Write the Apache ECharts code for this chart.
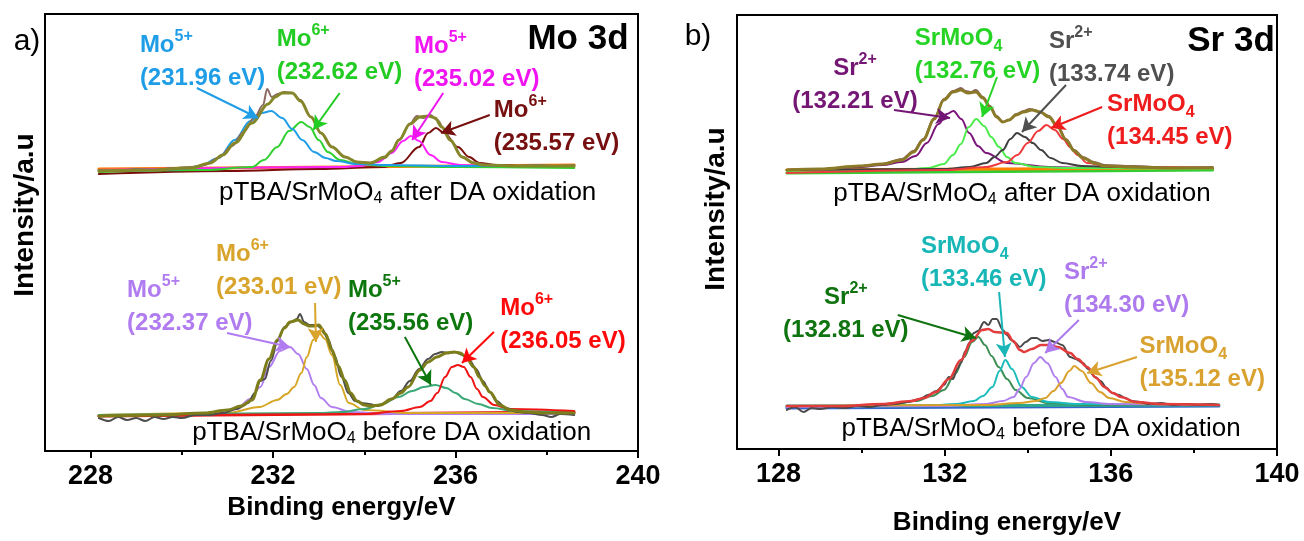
<!DOCTYPE html>
<html>
<head>
<meta charset="utf-8">
<script src="https://cdn.jsdelivr.net/npm/echarts@6/dist/echarts.min.js"></script>
<style>
  html, body { margin: 0; padding: 0; background: #ffffff; }
  #chart { width: 1304px; height: 541px; }
</style>
</head>
<body>
<div id="chart"></div>
<script>
// ---------- axis ticks (binding energy, eV) ----------
const moTicks = [228, 232, 236, 240];
const moMinorTicks = [230, 234, 238];
const srTicks = [128, 132, 136, 140];
const srMinorTicks = [130, 134, 138];

// ---------- Mo 3d : after DA oxidation (spectrum stacked above) ----------
const moAfterCenters = [231.96, 232.62, 235.02, 235.57];
const moAfterRaw = [[228.18,281],[228.6,280],[229.0,282],[229.4,281],[229.8,283],[230.2,284],[230.5,286],[230.8,293],[231.1,305],[231.35,319],[231.6,334],[231.78,346],[231.87,362],[231.97,354],[232.1,357],[232.25,359],[232.42,358],[232.6,351],[232.83,334],[233.05,318],[233.3,304],[233.58,294],[233.84,289],[234.13,288],[234.45,293],[234.6,300],[234.78,312],[235.0,327],[235.15,335],[235.3,333],[235.45,336],[235.6,331],[235.75,322],[235.9,310],[236.15,294],[236.4,288],[236.7,286],[237.2,285],[237.8,286],[238.2,285],[238.6,286]];
const moAfterEnvelope = [[228.18,280],[229.3,281],[230.2,283],[230.62,288],[230.9,296],[231.16,308],[231.54,328],[231.89,347],[232.05,354],[232.2,358],[232.42,358],[232.6,350],[232.83,334],[233.05,318],[233.29,304],[233.58,294],[233.84,289],[234.13,288],[234.45,294],[234.6,300],[234.76,311],[235.0,327],[235.22,334],[235.4,335],[235.55,333],[235.7,324],[235.88,311],[236.14,294],[236.4,288],[236.6,286],[237.4,285],[238.6,285]];
const moAfterMo5a = [[228.18,280],[229.5,281],[230.0,282],[230.4,285],[230.8,293],[231.16,311],[231.5,330],[231.75,338],[231.96,340],[232.2,333],[232.42,322],[232.64,311],[232.9,299],[233.15,293],[233.38,290],[233.84,287],[234.5,286],[236.0,285],[238.6,285]];
const moAfterMo6a = [[228.18,279],[230.5,281],[231.54,284],[231.8,291],[232.09,304],[232.35,320],[232.62,329],[232.8,324],[233.0,311],[233.2,299],[233.47,291],[233.84,287],[234.5,285],[236.0,284],[238.6,283]];
const moAfterMo5b = [[228.18,281],[233.5,284],[233.9,285],[234.3,289],[234.6,298],[234.85,310],[235.02,315],[235.2,310],[235.45,296],[235.7,289],[236.1,286],[237.0,285],[238.6,285]];
const moAfterMo6b = [[228.18,277],[231.0,280],[233.0,282],[234.4,284],[234.8,288],[235.2,304],[235.4,318],[235.57,323],[235.75,318],[236.05,304],[236.3,294],[236.52,288],[236.9,286],[237.5,285],[238.6,284]];
const moAfterBg = [[228.18,282],[238.6,286]];

// ---------- Mo 3d : before DA oxidation ----------
const moBeforeCenters = [232.37, 233.01, 235.56, 236.05];
const moBeforeRaw = [[228.18,33],[228.4,30],[228.6,34],[228.8,31],[229.0,33],[229.2,30],[229.4,34],[229.6,32],[229.8,34],[230.0,33],[230.3,36],[230.6,36],[230.9,38],[231.2,42],[231.45,48],[231.6,58],[231.72,70],[231.82,72],[231.95,90],[232.1,110],[232.25,124],[232.4,129],[232.52,132],[232.59,137],[232.68,129],[232.8,126],[232.95,126],[233.08,122],[233.2,112],[233.35,95],[233.5,74],[233.65,58],[233.8,50],[233.95,48],[234.1,47],[234.3,45],[234.45,48],[234.6,52],[234.8,60],[235.0,70],[235.2,82],[235.4,92],[235.55,97],[235.7,99],[235.85,98],[236.0,99],[236.15,96],[236.3,91],[236.45,82],[236.6,70],[236.75,59],[236.9,50],[237.1,43],[237.35,39],[237.6,38],[237.9,36],[238.1,34],[238.3,37],[238.6,36]];
const moBeforeEnvelope = [[228.18,35],[229.5,36],[230.5,38],[231.0,41],[231.3,45],[231.54,51],[231.72,71],[231.91,92],[232.09,111],[232.25,123],[232.37,129],[232.55,131],[232.68,127],[232.79,125],[232.9,125],[233.0,126],[233.15,117],[233.29,101],[233.43,85],[233.57,71],[233.7,58],[233.84,50],[234.0,46],[234.15,45],[234.35,46],[234.6,52],[234.8,58],[234.96,64],[235.22,81],[235.4,89],[235.59,94],[235.8,98],[235.97,99],[236.1,98],[236.23,94],[236.4,84],[236.52,74],[236.65,65],[236.75,59],[236.97,46],[237.2,41],[237.53,39],[238.0,38],[238.6,38]];
const moBeforeMo5a = [[228.18,35],[230.5,37],[231.2,42],[231.5,52],[231.72,64],[231.91,84],[232.15,100],[232.37,104],[232.55,97],[232.74,82],[232.9,66],[233.05,53],[233.29,44],[233.7,39],[234.5,37],[238.6,37]];
const moBeforeMo6a = [[228.18,36],[231.0,38],[231.7,44],[232.09,51],[232.3,57],[232.46,64],[232.62,78],[232.74,94],[232.88,111],[233.01,118],[233.14,112],[233.29,96],[233.47,66],[233.66,48],[234.0,41],[235.0,38],[238.6,38]];
const moBeforeMo5b = [[228.18,36],[233.0,38],[233.5,39],[234.0,42],[234.4,47],[234.75,54],[235.05,60],[235.3,64],[235.56,66],[235.8,63],[236.0,58],[236.2,52],[236.5,47],[236.8,43],[237.3,40],[238.6,38]];
const moBeforeMo6b = [[228.18,35],[234.0,37],[234.8,40],[235.22,44],[235.45,50],[235.6,58],[235.77,74],[235.92,84],[236.05,86],[236.18,84],[236.33,74],[236.47,62],[236.6,54],[236.85,46],[237.2,42],[238.6,40]];
const moBeforeBg = [[228.18,35],[238.6,39]];

// ---------- Sr 3d : after DA oxidation ----------
const srAfterCenters = [132.21, 132.76, 133.74, 134.45];
const srAfterRaw = [[128.2,279],[128.6,280],[129.0,279],[129.5,281],[129.96,283],[130.5,285],[130.97,290],[131.25,298],[131.48,310],[131.75,331],[131.98,350],[132.2,358],[132.39,361],[132.5,358],[132.62,357],[132.75,359],[132.92,352],[133.09,343],[133.25,333],[133.4,327],[133.55,329],[133.72,335],[133.9,338],[134.05,340],[134.15,339],[134.3,337],[134.51,333],[134.72,323],[134.92,310],[135.12,299],[135.33,292],[135.6,287],[135.84,284],[136.5,283],[137.5,281],[138.45,282]];
const srAfterEnvelope = [[128.2,279],[129.0,280],[129.96,283],[130.5,285],[130.97,289],[131.25,297],[131.48,309],[131.75,330],[131.98,349],[132.2,357],[132.39,359],[132.55,356],[132.75,357],[132.92,351],[133.09,342],[133.25,332],[133.4,327],[133.55,329],[133.72,334],[133.9,337],[134.1,339],[134.3,337],[134.51,332],[134.72,322],[134.92,309],[135.12,298],[135.33,291],[135.6,286],[135.84,283],[136.5,282],[137.5,281],[138.45,281]];
const srAfterSr2a = [[128.2,278],[129.0,279],[129.96,282],[130.5,284],[130.97,287],[131.3,293],[131.57,306],[131.85,325],[132.05,335],[132.21,338],[132.4,330],[132.59,316],[132.8,303],[133.0,296],[133.5,286],[134.51,282],[135.5,281],[138.45,281]];
const srAfterMoO4a = [[128.2,277],[131.0,279],[131.6,281],[131.98,285],[132.2,294],[132.39,305],[132.58,322],[132.76,330],[132.95,323],[133.12,312],[133.31,302],[133.5,292],[133.7,286],[134.2,282],[135.0,281],[138.45,280]];
const srAfterSr2b = [[128.2,279],[132.0,280],[132.6,282],[133.0,286],[133.2,292],[133.4,299],[133.58,310],[133.74,316],[133.93,312],[134.12,306],[134.32,299],[134.55,291],[134.83,286],[135.3,283],[136.2,282],[138.45,281]];
const srAfterMoO4b = [[128.2,276],[132.0,279],[133.0,282],[133.5,287],[133.75,294],[134.0,306],[134.25,318],[134.45,324],[134.65,319],[134.85,310],[135.02,302],[135.2,294],[135.43,286],[135.9,283],[136.6,282],[138.45,281]];
const srAfterBgA = [[128.2,279],[138.45,281]];
const srAfterBgB = [[128.2,276],[138.45,279]];

// ---------- Sr 3d : before DA oxidation ----------
const srBeforeCenters = [132.81, 133.46, 134.30, 135.12];
const srBeforeRaw = [[128.2,39],[128.4,42],[128.6,37],[128.8,41],[129.0,40],[129.3,42],[129.6,41],[129.9,43],[130.2,42],[130.5,44],[130.8,45],[131.1,47],[131.4,50],[131.6,54],[131.8,58],[131.98,64],[132.1,72],[132.2,70],[132.3,80],[132.39,86],[132.5,98],[132.59,106],[132.7,116],[132.8,118],[132.95,127],[133.05,124],[133.15,130],[133.25,130],[133.4,119],[133.5,114],[133.6,109],[133.7,106],[133.81,102],[133.95,107],[134.1,111],[134.21,111],[134.35,108],[134.51,109],[134.65,107],[134.83,104],[135.02,92],[135.15,90],[135.33,86],[135.45,80],[135.62,72],[135.75,68],[135.9,61],[136.03,56],[136.2,54],[136.35,51],[136.5,48],[136.7,47],[136.9,45],[137.2,46],[137.5,44],[137.8,45],[138.1,44],[138.4,45],[138.6,44]];
const srBeforeEnvelope = [[128.2,43],[129.5,43],[130.5,45],[131.2,48],[131.5,51],[131.79,57],[132.1,70],[132.39,89],[132.65,108],[132.9,119],[133.05,120],[133.2,117],[133.5,116],[133.65,108],[133.81,99],[133.91,97],[134.1,100],[134.32,104],[134.5,104],[134.72,102],[135.02,96],[135.2,90],[135.43,82],[135.65,71],[135.84,62],[136.05,56],[136.24,52],[136.6,47],[137.2,45],[138.6,44]];
const srBeforeSr2a = [[128.2,42],[130.0,43],[130.8,45],[131.3,48],[131.7,53],[131.98,59],[132.25,75],[132.47,92],[132.66,107],[132.81,112],[132.97,104],[133.13,93],[133.3,82],[133.5,70],[133.71,59],[134.0,51],[134.5,46],[135.5,44],[138.6,44]];
const srBeforeMoO4a = [[128.2,42],[131.5,43],[132.3,45],[132.7,48],[132.92,53],[133.15,62],[133.32,78],[133.46,89],[133.62,80],[133.85,62],[134.1,52],[134.5,47],[135.2,45],[138.6,44]];
const srBeforeSr2b = [[128.2,42],[132.0,43],[133.0,45],[133.4,48],[133.66,52],[133.8,60],[133.96,72],[134.15,86],[134.3,92],[134.47,86],[134.67,72],[134.83,60],[134.97,52],[135.4,47],[136.0,45],[138.6,44]];
const srBeforeMoO4b = [[128.2,43],[133.0,44],[133.8,46],[134.2,48],[134.42,51],[134.62,58],[134.8,66],[135.0,78],[135.12,83],[135.3,78],[135.52,66],[135.74,57],[135.96,51],[136.35,47],[137.0,45],[138.6,44]];
const srBeforeBgA = [[128.2,43],[138.6,44]];
const srBeforeBgB = [[128.2,41],[138.6,43]];

// ---------- drawing ----------
const FONT = '"Liberation Sans", Arial, Helvetica, sans-serif';
const chart = echarts.init(document.getElementById('chart'), null, { renderer: 'canvas' });

function curve(name, data, color, width, panel, z) {
  return {
    name, type: 'line', data,
    xAxisIndex: panel * 2, yAxisIndex: panel,
    smooth: 0.35, smoothMonotone: 'x',
    showSymbol: false, symbol: 'none', silent: true,
    lineStyle: { color, width, cap: 'round', join: 'round' },
    z: z || 2
  };
}

function rich(color) {
  return {
    m: { color, fontFamily: FONT, fontWeight: 'bold', fontSize: 24, lineHeight: 33 },
    s: { color, fontFamily: FONT, fontWeight: 'bold', fontSize: 16, lineHeight: 20, verticalAlign: 'top' },
    b: { color, fontFamily: FONT, fontWeight: 'bold', fontSize: 16, lineHeight: 19, verticalAlign: 'bottom' }
  };
}

// peak call-outs: species name, peak position (from the centre arrays), text anchor and arrow
const moNotes = [
  { base: 'Mo', sup: '5+', center: moAfterCenters[0],  color: '#1f9de6', at: [229.08, 422.5], align: 'left', arrow: [[230.33, 363], [231.67, 333]] },
  { base: 'Mo', sup: '6+', center: moAfterCenters[1],  color: '#22cc22', at: [232.08, 428.5], align: 'left', arrow: [[233.46, 358], [232.88, 321]] },
  { base: 'Mo', sup: '5+', center: moAfterCenters[2],  color: '#f014f0', at: [235.09, 421.5], align: 'left', arrow: [[235.73, 358], [235.05, 311]] },
  { base: 'Mo', sup: '6+', center: moAfterCenters[3],  color: '#761010', at: [236.84, 357.5], align: 'left', arrow: [[236.75, 336], [235.68, 318]] },
  { base: 'Mo', sup: '5+', center: moBeforeCenters[0], color: '#b07cf0', at: [228.80, 177.5], align: 'left', arrow: [[230.99, 118], [232.37, 104]] },
  { base: 'Mo', sup: '6+', center: moBeforeCenters[1], color: '#d9a42c', at: [230.75, 213.5], align: 'left', arrow: [[232.92, 148], [232.94, 109]] },
  { base: 'Mo', sup: '5+', center: moBeforeCenters[2], color: '#0d760d', at: [233.64, 177.5], align: 'left', arrow: [[234.89, 114], [235.46, 66]] },
  { base: 'Mo', sup: '6+', center: moBeforeCenters[3], color: '#ff0a0a', at: [236.98, 159.5], align: 'left', arrow: [[236.84, 119], [236.14, 88]] }
];
const srNotes = [
  { base: 'Sr', sup: '2+', center: srAfterCenters[0],  color: '#741674', at: [129.84, 397.5], align: 'center', arrow: [[130.78, 339], [132.13, 331]] },
  { base: 'SrMoO', sub: '4', center: srAfterCenters[1],  color: '#26d426', at: [131.28, 427.5], align: 'left', arrow: [[133.26, 372], [132.90, 332]] },
  { base: 'Sr', sup: '2+', center: srAfterCenters[2],  color: '#505050', at: [134.51, 424.5], align: 'left', arrow: [[134.92, 364], [133.86, 317]] },
  { base: 'SrMoO', sub: '4', center: srAfterCenters[3],  color: '#ee1c1c', at: [135.91, 361.5], align: 'left', arrow: [[135.79, 342], [134.56, 321]] },
  { base: 'Sr', sup: '2+', center: srBeforeCenters[0], color: '#0f730f', at: [129.62, 168.5], align: 'center', arrow: [[130.87, 134], [132.75, 111]] },
  { base: 'SrMoO', sub: '4', center: srBeforeCenters[1], color: '#18b6b6', at: [131.43, 219.5], align: 'left', arrow: [[133.31, 157], [133.45, 92]] },
  { base: 'Sr', sup: '2+', center: srBeforeCenters[2], color: '#ad7bee', at: [134.87, 193.5], align: 'left', arrow: [[135.23, 129], [134.42, 96]] },
  { base: 'SrMoO', sub: '4', center: srBeforeCenters[3], color: '#d9a230', at: [136.69, 119.5], align: 'left', arrow: [[136.63, 92], [135.43, 76]] }
];

function noteSeries(notes, panel) {
  return {
    type: 'scatter', xAxisIndex: panel * 2, yAxisIndex: panel,
    symbolSize: 0, silent: true, z: 10,
    itemStyle: { opacity: 1 },
    data: notes.map(n => ({
      value: n.at,
      label: {
        show: true, opacity: 1, position: [0, 0], align: n.align, verticalAlign: 'top',
        formatter: '{m|' + n.base + '}' + (n.sup ? '{s|' + n.sup + '}' : '') + (n.sub ? '{b|' + n.sub + '}' : '') +
                   '\n{m|(' + n.center.toFixed(2) + ' eV)}',
        rich: rich(n.color)
      }
    })),
    markLine: {
      silent: true, symbol: ['none', 'arrow'], symbolSize: [12, 14], precision: 4,
      label: { show: false },
      data: notes.map(n => [
        { coord: n.arrow[0], lineStyle: { color: n.color, width: 2, type: 'solid', opacity: 1 }, itemStyle: { color: n.color, opacity: 1 } },
        { coord: n.arrow[1], lineStyle: { color: n.color, width: 2, type: 'solid', opacity: 1 }, itemStyle: { color: n.color, opacity: 1 } }
      ])
    }
  };
}

function captionSeries(items, panel) {
  const r = {
    c: { color: '#000', fontFamily: FONT, fontSize: 26, lineHeight: 28 },
    d: { color: '#000', fontFamily: FONT, fontSize: 16, lineHeight: 16, verticalAlign: 'bottom' }
  };
  return {
    type: 'scatter', xAxisIndex: panel * 2, yAxisIndex: panel,
    symbolSize: 0, silent: true, z: 10,
    itemStyle: { opacity: 1 },
    data: items.map(it => ({
      value: it.at,
      label: { show: true, opacity: 1, position: [0, 0], align: 'center', verticalAlign: 'middle',
               formatter: '{c|pTBA/SrMoO}{d|4}{c| ' + it.text + '}', rich: r }
    }))
  };
}

function xAxes(gridIndex, min, max, ticks, minor, nameGap) {
  const lbl = { color: '#000', fontFamily: FONT, fontWeight: 'bold', fontSize: 27 };
  return [
    {
      type: 'value', gridIndex, min, max, position: 'bottom',
      name: 'Binding energy/eV', nameLocation: 'middle', nameGap,
      nameTextStyle: { color: '#000', fontFamily: FONT, fontWeight: 'bold', fontSize: 26 },
      axisLine: { show: true, onZero: false, lineStyle: { color: '#000', width: 2 } },
      axisTick: { show: true, inside: false, length: 7, customValues: ticks, lineStyle: { color: '#000', width: 2 } },
      axisLabel: { show: true, margin: 12, customValues: ticks, ...lbl },
      splitLine: { show: false }
    },
    {
      type: 'value', gridIndex, min, max, position: 'bottom',
      axisLine: { show: false },
      axisTick: { show: true, inside: false, length: 4, customValues: minor, lineStyle: { color: '#000', width: 2 } },
      axisLabel: { show: false },
      splitLine: { show: false }
    }
  ];
}

function yAxis(gridIndex, max) {
  return {
    type: 'value', gridIndex, min: 0, max,
    axisLine: { show: false }, axisTick: { show: false },
    axisLabel: { show: false }, splitLine: { show: false }
  };
}

const series = [
  // Mo 3d, after
  curve('bg', moAfterBg, '#ff7a10', 3, 0, 1),
  curve('Mo6+ 235.57', moAfterMo6b, '#7b0d0d', 2, 0),
  curve('Mo5+ 235.02', moAfterMo5b, '#ff20ff', 2, 0),
  curve('Mo6+ 232.62', moAfterMo6a, '#2fd02f', 2, 0),
  curve('Mo5+ 231.96', moAfterMo5a, '#1f9de6', 2, 0),
  curve('raw', moAfterRaw, '#8b6a62', 2, 0, 3),
  curve('fit', moAfterEnvelope, '#86862a', 3, 0, 4),
  // Mo 3d, before
  curve('bg', moBeforeBg, '#e81b1b', 3, 0, 1),
  curve('Mo5+ 232.37', moBeforeMo5a, '#b27ff0', 2, 0),
  curve('Mo6+ 233.01', moBeforeMo6a, '#d6a626', 2, 0),
  curve('Mo5+ 235.56', moBeforeMo5b, '#3aa877', 2, 0),
  curve('Mo6+ 236.05', moBeforeMo6b, '#f01515', 2, 0),
  curve('raw', moBeforeRaw, '#4d4d4d', 2, 0, 3),
  curve('fit', moBeforeEnvelope, '#7d7d1c', 3, 0, 4),
  // Sr 3d, after
  curve('bg', srAfterBgB, '#33cc33', 3, 1, 1),
  curve('bg', srAfterBgA, '#ff8000', 3, 1, 1),
  curve('Sr2+ 132.21', srAfterSr2a, '#7a157a', 2, 1),
  curve('SrMoO4 132.76', srAfterMoO4a, '#4cec4c', 2, 1),
  curve('Sr2+ 133.74', srAfterSr2b, '#404040', 2, 1),
  curve('SrMoO4 134.45', srAfterMoO4b, '#ef3b3b', 2, 1),
  curve('raw', srAfterRaw, '#8a5e5a', 2, 1, 3),
  curve('fit', srAfterEnvelope, '#8b7a28', 3, 1, 4),
  // Sr 3d, before
  curve('bg', srBeforeBgB, '#3366cc', 3, 1, 1),
  curve('bg', srBeforeBgA, '#2ea88a', 3, 1, 1),
  curve('Sr2+ 132.81', srBeforeSr2a, '#3d8f55', 2, 1),
  curve('SrMoO4 133.46', srBeforeMoO4a, '#1cbcbc', 2, 1),
  curve('Sr2+ 134.30', srBeforeSr2b, '#b07fee', 2, 1),
  curve('SrMoO4 135.12', srBeforeMoO4b, '#d9a02a', 2, 1),
  curve('raw', srBeforeRaw, '#4a4a4a', 2, 1, 3),
  curve('fit', srBeforeEnvelope, '#e23c3c', 2.5, 1, 4),
  // call-outs and captions
  noteSeries(moNotes, 0),
  noteSeries(srNotes, 1),
  captionSeries([{ text: 'after DA oxidation', at: [234.95, 258] }, { text: 'before DA oxidation', at: [234.6, 18] }], 0),
  captionSeries([{ text: 'after DA oxidation', at: [133.86, 255] }, { text: 'before DA oxidation', at: [134.32, 20] }], 1)
];

const option = {
  animation: false,
  backgroundColor: '#ffffff',
  grid: [
    { left: 45, top: 14, width: 593, height: 437, show: true, borderColor: '#000', borderWidth: 2, backgroundColor: 'transparent', containLabel: false },
    { left: 737, top: 15, width: 540, height: 434, show: true, borderColor: '#000', borderWidth: 2, backgroundColor: 'transparent', containLabel: false }
  ],
  xAxis: [
    ...xAxes(0, 227, 240, moTicks, moMinorTicks, 42),
    ...xAxes(1, 127, 140, srTicks, srMinorTicks, 61)
  ],
  yAxis: [yAxis(0, 437), yAxis(1, 434)],
  graphic: [
    { type: 'text', x: 27, y: 42, style: { text: 'a)', font: '30px ' + FONT, fill: '#000', align: 'center', verticalAlign: 'middle' } },
    { type: 'text', x: 698, y: 37, style: { text: 'b)', font: '30px ' + FONT, fill: '#000', align: 'center', verticalAlign: 'middle' } },
    { type: 'text', x: 578, y: 39, style: { text: 'Mo 3d', font: 'bold 35px ' + FONT, fill: '#000', align: 'center', verticalAlign: 'middle' } },
    { type: 'text', x: 1231, y: 41, style: { text: 'Sr 3d', font: 'bold 35px ' + FONT, fill: '#000', align: 'center', verticalAlign: 'middle' } },
    { type: 'text', x: 25, y: 215, rotation: Math.PI / 2, style: { text: 'Intensity/a.u', font: 'bold 28px ' + FONT, fill: '#000', align: 'center', verticalAlign: 'middle' } },
    { type: 'text', x: 716, y: 209, rotation: Math.PI / 2, style: { text: 'Intensity/a.u', font: 'bold 28px ' + FONT, fill: '#000', align: 'center', verticalAlign: 'middle' } }
  ],
  series
};
chart.setOption(option);
</script>
</body>
</html>
